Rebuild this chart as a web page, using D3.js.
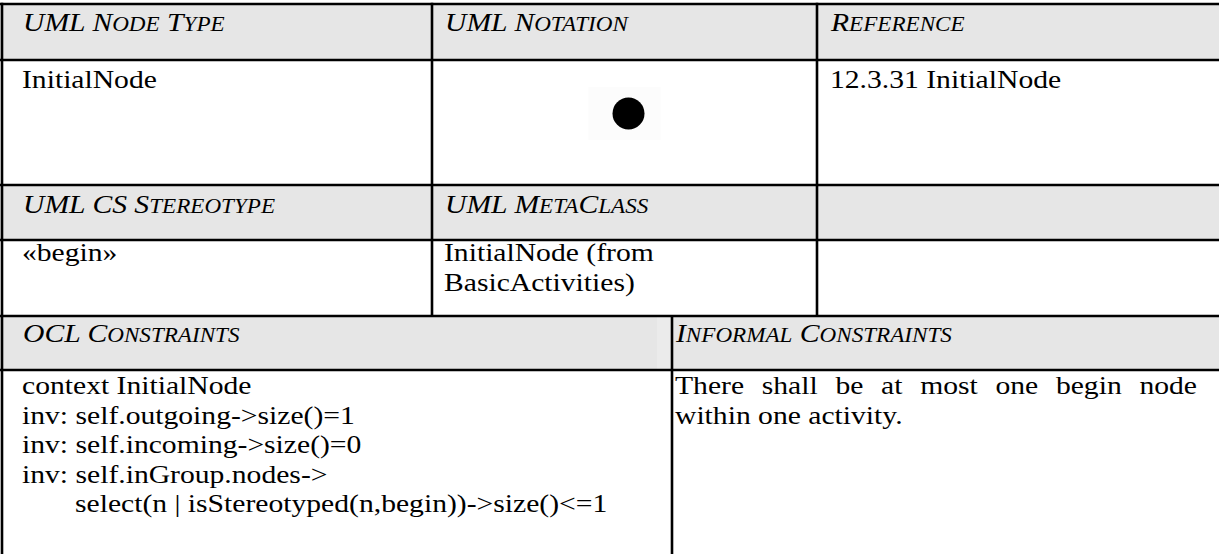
<!DOCTYPE html>
<html><head><meta charset="utf-8">
<script src="https://cdn.jsdelivr.net/npm/d3@7"></script>
<style>html,body{margin:0;padding:0;background:#fff;overflow:hidden}</style>
</head><body>
<svg id="c" width="1219" height="554"></svg>
<script>
// ---- content ----
const headerRow1 = ["UML Node Type", "UML Notation", "Reference"];
const bodyRow1 = [["InitialNode"], [], ["12.3.31 InitialNode"]];
const headerRow2 = ["UML CS Stereotype", "UML MetaClass", ""];
const bodyRow2 = [["«begin»"], ["InitialNode (from", "BasicActivities)"], []];
const headerRow3 = ["OCL Constraints", "Informal Constraints"];
const oclLines = ["context InitialNode", "inv: self.outgoing->size()=1", "inv: self.incoming->size()=0", "inv: self.inGroup.nodes->", "select(n | isStereotyped(n,begin))->size()<=1"];
const oclIndent = [0, 0, 0, 0, 1];
const informalText = "There shall be at most one begin node within one activity.";
const notationSymbols = ["initialNode"];

// ---- layout ----
const W = 1219, H = 554;
const FONT = "Liberation Serif";
const FS = 26, SX = 1.14, LH = 29.5, SC = 0.78;
const rowY = [4, 60, 185, 240, 316, 370, 640];
const topCols = [2, 432, 817, 1240];
const botCols = [2, 672, 1240];
const textX3 = [22, 444, 830];
const textX2 = [22, 675];
const GRAY = "#e6e6e6";

const svg = d3.select("#c");
const g = svg.append("g");

const headerRows = [0, 2, 4];
g.selectAll("rect.bg").data(d3.range(6)).join("rect")
  .attr("x", 0).attr("width", W + 30)
  .attr("y", i => rowY[i]).attr("height", i => rowY[i + 1] - rowY[i])
  .attr("fill", i => headerRows.includes(i) ? GRAY : "#fff");
g.append("rect").attr("x", 657).attr("y", rowY[4]).attr("width", 15).attr("height", rowY[5] - rowY[4]).attr("fill", "#ebebeb");

const cx = d3.scaleOrdinal().domain(notationSymbols).range([628.5]);
g.selectAll("rect.sym").data(notationSymbols).join("rect")
  .attr("x", d => cx(d) - 40).attr("y", 87).attr("width", 72).attr("height", 53).attr("fill", "#fcfcfc");
g.selectAll("circle.sym").data(notationSymbols).join("circle")
  .attr("cx", d => cx(d)).attr("cy", 113.5).attr("r", 16).attr("fill", "#000");

function addText(str, x, y) {
  return g.append("text")
    .attr("transform", `translate(${x},${y}) scale(${SX},1)`)
    .attr("font-family", FONT).attr("font-size", FS).attr("fill", "#000")
    .text(str);
}
// italic small caps header, built from runs
function addHeader(str, x, y) {
  const t = g.append("text")
    .attr("transform", `translate(${x},${y}) scale(${SX},1)`)
    .attr("font-family", FONT).attr("font-style", "italic").attr("fill", "#000");
  const runs = [];
  for (const ch of str) {
    const small = ch !== ch.toUpperCase();
    if (runs.length && runs[runs.length - 1].small === small) runs[runs.length - 1].s += ch;
    else runs.push({ small, s: ch });
  }
  t.selectAll("tspan").data(runs).join("tspan")
    .attr("font-size", d => d.small ? FS * SC : FS)
    .text(d => d.s.toUpperCase());
  return t;
}

const headerBase = [31, 213, 342];
[headerRow1, headerRow2].forEach((row, r) => {
  row.forEach((s, i) => { if (s) addHeader(s, textX3[i] + 1, headerBase[r]); });
});
headerRow3.forEach((s, i) => addHeader(s, textX2[i] + 1, headerBase[2]));

const bodyBase = [88, 261];
[bodyRow1, bodyRow2].forEach((row, r) => {
  row.forEach((lines, i) => lines.forEach((s, k) => addText(s, textX3[i], bodyBase[r] + k * LH)));
});

const oclBase = 394;
oclLines.forEach((s, k) => addText(s, textX2[0] + oclIndent[k] * 53, oclBase + k * LH));

(function () {
  const left = textX2[1], right = 1197;
  const words = informalText.split(" ");
  const tmp = addText("x", 0, -100);
  const wWidth = words.map(w => { tmp.text(w); return tmp.node().getComputedTextLength() * SX; });
  tmp.text("a b"); const ab = tmp.node().getComputedTextLength();
  tmp.text("ab"); const space = (ab - tmp.node().getComputedTextLength()) * SX;
  tmp.remove();
  const lines = []; let cur = [], curW = 0;
  words.forEach((w, i) => {
    const add = (cur.length ? space : 0) + wWidth[i];
    if (cur.length && curW + add > right - left) { lines.push(cur); cur = [i]; curW = wWidth[i]; }
    else { cur.push(i); curW += add; }
  });
  if (cur.length) lines.push(cur);
  lines.forEach((ln, li) => {
    const y = oclBase + li * LH;
    const total = d3.sum(ln, i => wWidth[i]);
    const last = li === lines.length - 1;
    const gap = last || ln.length < 2 ? space : (right - left - total) / (ln.length - 1);
    let x = left;
    ln.forEach(i => { addText(words[i], x, y); x += wWidth[i] + gap; });
  });
})();

const SW = 2.6;
const hLines = rowY.slice(0, 6);
g.selectAll("line.h").data(hLines).join("line")
  .attr("x1", 0).attr("x2", W + 30).attr("y1", d => d).attr("y2", d => d)
  .attr("stroke", "#000").attr("stroke-width", SW);
g.selectAll("line.vt").data(topCols).join("line")
  .attr("x1", d => d).attr("x2", d => d).attr("y1", rowY[0] - SW / 2).attr("y2", rowY[4])
  .attr("stroke", "#000").attr("stroke-width", SW);
g.selectAll("line.vb").data(botCols).join("line")
  .attr("x1", d => d).attr("x2", d => d).attr("y1", rowY[4]).attr("y2", H + 10)
  .attr("stroke", "#000").attr("stroke-width", SW);
</script>
</body></html>
